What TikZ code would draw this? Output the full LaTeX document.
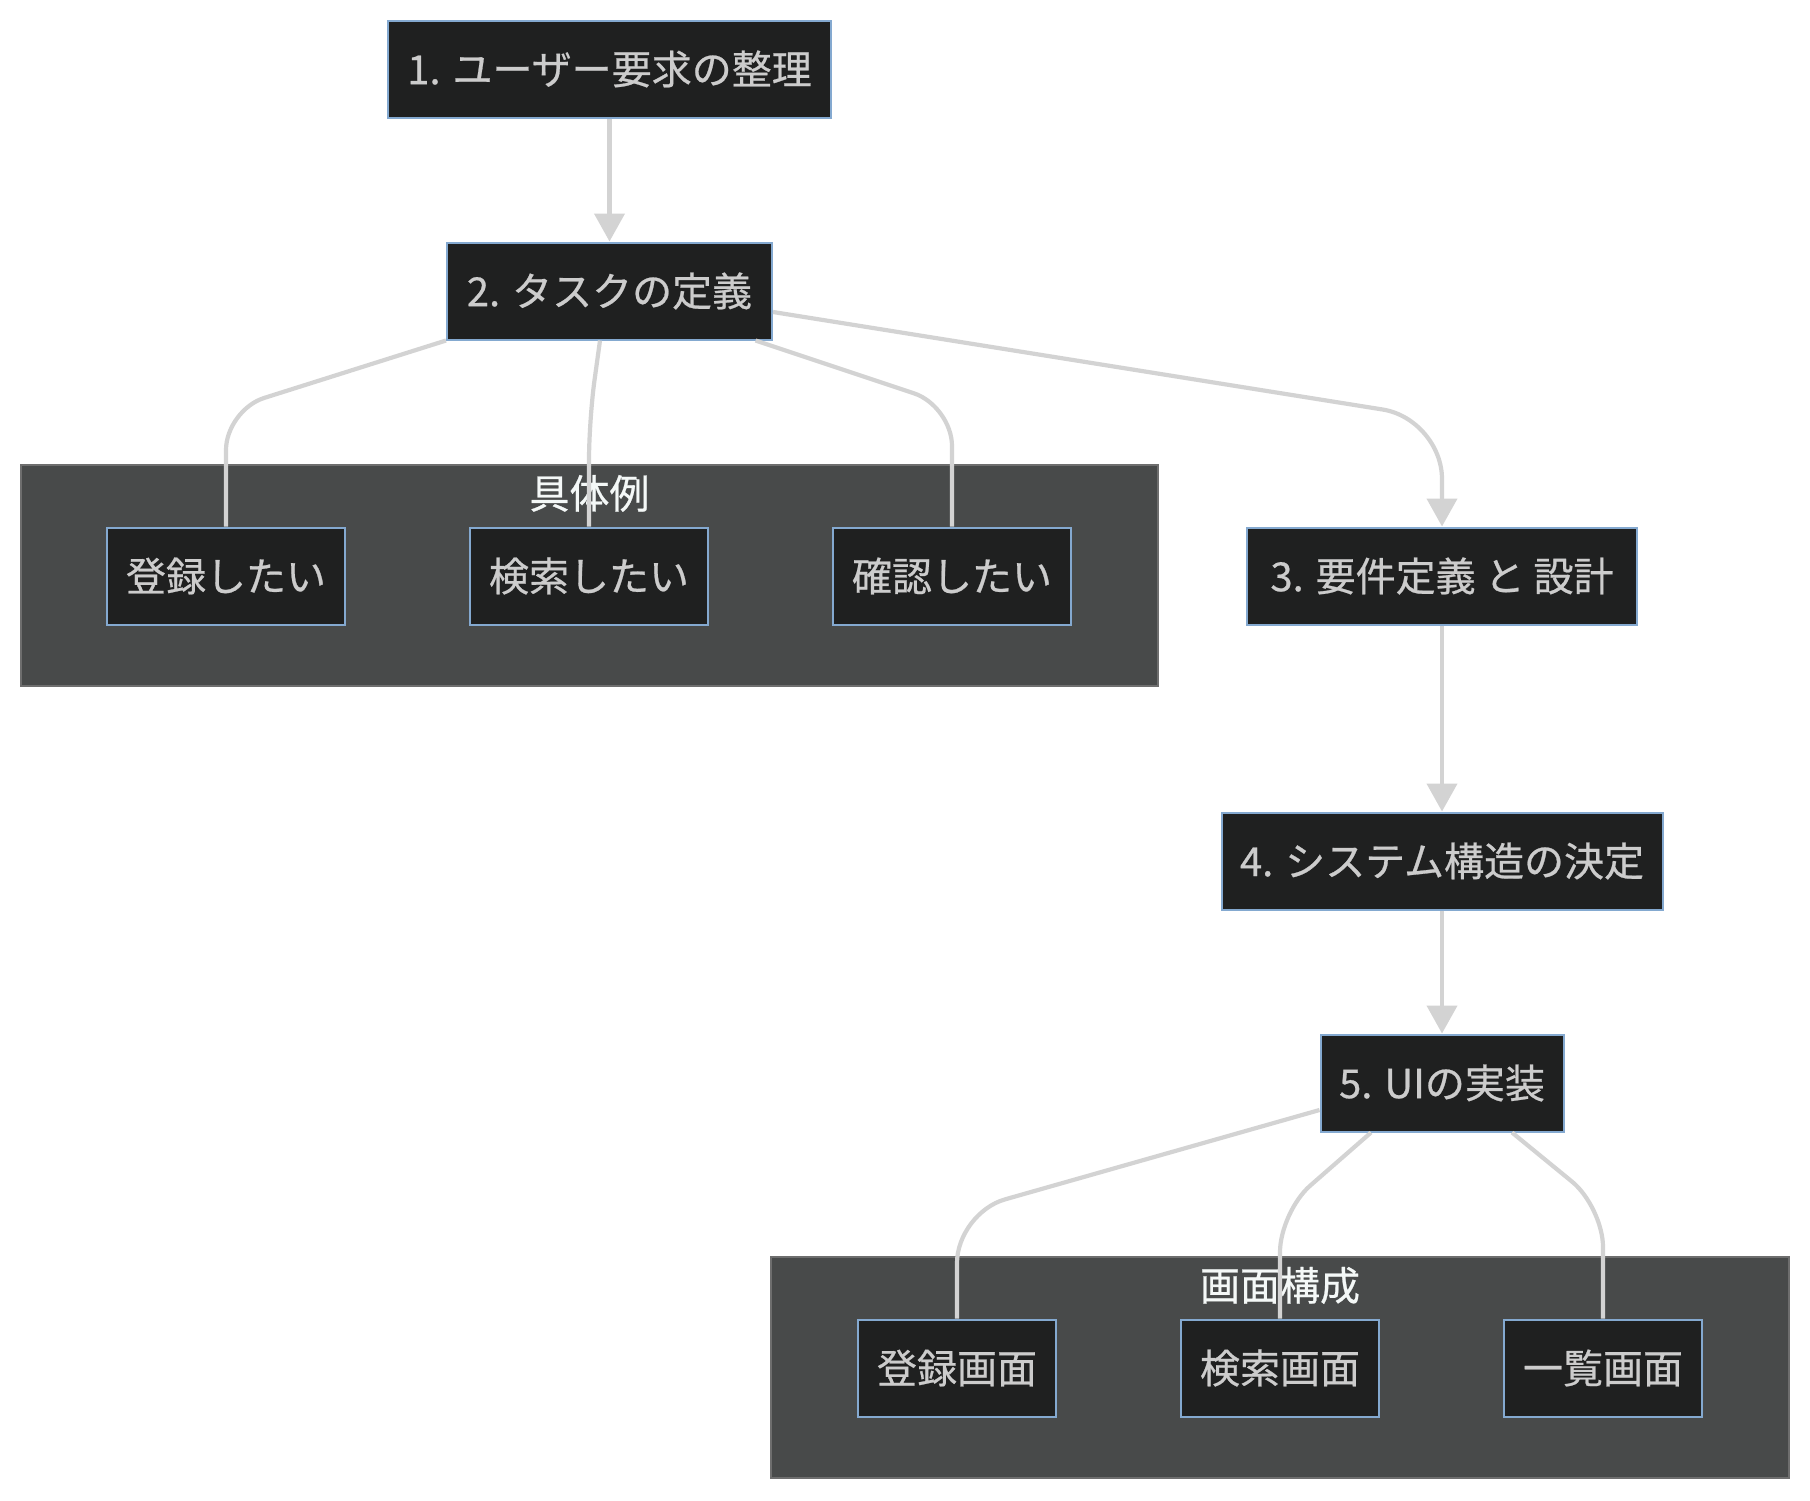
\documentclass[tikz,border=0pt]{standalone}
\usepackage{fontspec}
\setmainfont{Noto Sans CJK JP}[FakeBold=0.6, AutoFakeBold=0.6]
\usetikzlibrary{positioning,arrows.meta}

\definecolor{stepbg}{HTML}{1F2020}
\definecolor{stepline}{HTML}{84A9D0}
\definecolor{steptext}{HTML}{CCCCCC}
\definecolor{groupbg}{HTML}{484A4A}
\definecolor{groupline}{HTML}{6E6E6E}
\definecolor{grouptext}{HTML}{F4F8F7}
\definecolor{linkgray}{HTML}{D3D3D3}

\begin{document}
\begin{tikzpicture}[x=0.5pt, y=-0.5pt,
        stepbox/.style={rectangle, draw=stepline, fill=stepbg, text=steptext, line width=1pt, minimum height=48.5pt, inner sep=0pt, font=\fontsize{20pt}{24pt}\selectfont\bfseries},
        group/.style={rectangle, draw=groupline, fill=groupbg, line width=0.6pt, inner sep=0pt},
        grouptitle/.style={text=grouptext, font=\fontsize{20pt}{24pt}\selectfont\bfseries, inner sep=0pt},
        link/.style={draw=linkgray, line width=2.1pt},
        arrow/.style={link, ->, >={Triangle[length=14pt, width=15pt]}}
    ]
    \useasboundingbox (0,0) rectangle (1810,1500);

    % Subgraph boxes
    \node[group, minimum width=568.5pt, minimum height=110.5pt] (grpA) at (589.5,575.5) {};
    \node[grouptitle] (ttlA) at ([yshift=-14.5pt]grpA.north) {具体例};
    \node[group, minimum width=509pt, minimum height=110.5pt] (grpB) at (1280,1367.5) {};
    \node[grouptitle] (ttlB) at ([yshift=-14.5pt]grpB.north) {画面構成};

    % Main steps
    \node[stepbox, minimum width=221.5pt] (n1) at (609.5,69) {1. ユーザー要求の整理};
    \node[stepbox, minimum width=162.5pt] (n2) at (609.5,291) {2. タスクの定義};
    \node[stepbox, minimum width=195pt] (n3) at (1442,576) {3. 要件定義 と 設計};
    \node[stepbox, minimum width=220.5pt] (n4) at (1442,861) {4. システム構造の決定};
    \node[stepbox, minimum width=121.5pt] (n5) at (1442,1083) {5. UIの実装};

    % Examples
    \node[stepbox, minimum width=119pt] (ex1) at (226,576) {登録したい};
    \node[stepbox, minimum width=119pt] (ex2) at (589,576) {検索したい};
    \node[stepbox, minimum width=119pt] (ex3) at (952,576) {確認したい};

    % Screens
    \node[stepbox, minimum width=99pt] (sc1) at (957,1368) {登録画面};
    \node[stepbox, minimum width=99pt] (sc2) at (1280,1368) {検索画面};
    \node[stepbox, minimum width=99pt] (sc3) at (1603,1368) {一覧画面};

    % Flow
    \draw[arrow] (n1) -- (n2);
    \draw[arrow, rounded corners=30pt] ([yshift=-10.5pt]n2.east) -- (n3.north |- 0,419) -- (n3.north);
    \draw[arrow] (n3) -- (n4);
    \draw[arrow] (n4) -- (n5);

    % Task examples
    \draw[link, rounded corners=20pt] (n2.south west) -- (ex1.north |- 0,410) -- (ex1.north);
    \draw[link, rounded corners=20pt] ([xshift=-4.75pt]n2.south) -- (ex2.north |- 0,420) -- (ex2.north);
    \draw[link, rounded corners=20pt] ([xshift=73pt]n2.south) -- (ex3.north |- 0,406) -- (ex3.north);

    % UI screens
    \draw[link, rounded corners=25pt] ([yshift=-13.5pt]n5.west) -- (sc1.north |- 0,1213) -- (sc1.north);
    \draw[link, rounded corners=20pt] ([xshift=-35.5pt]n5.south) -- (sc2.north |- 0,1212) -- (sc2.north);
    \draw[link, rounded corners=20pt] ([xshift=35pt]n5.south) -- (sc3.north |- 0,1207) -- (sc3.north);

\end{tikzpicture}
\end{document}
